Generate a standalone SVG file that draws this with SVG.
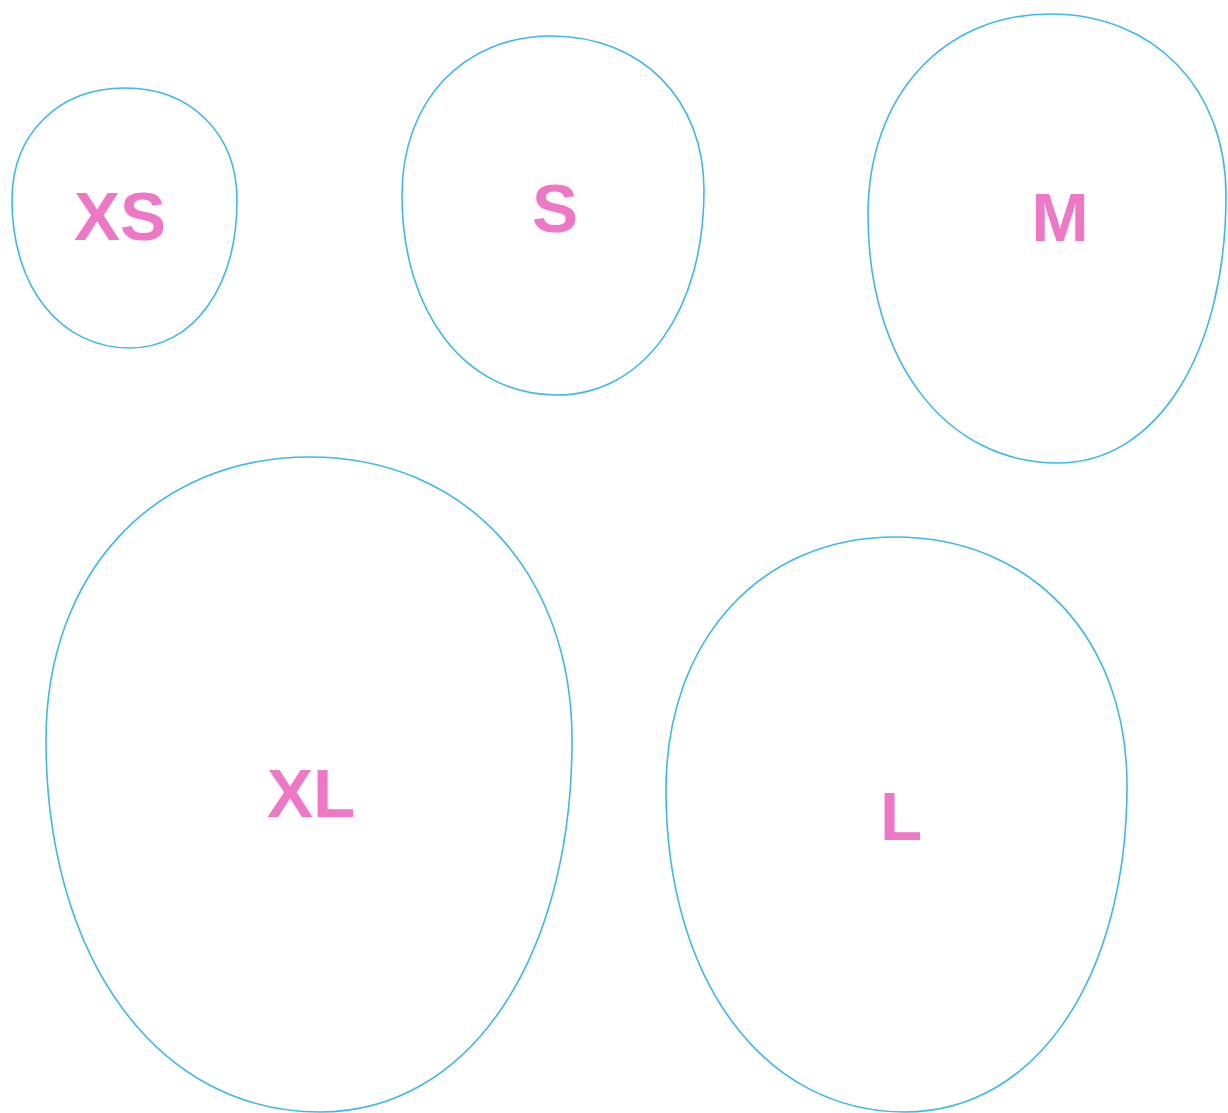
<svg xmlns="http://www.w3.org/2000/svg" width="1228" height="1113" viewBox="0 0 1228 1113">
<style>
.shape{fill:none;stroke:#3DB9EA;stroke-width:1.6}
.lbl{font-family:"Liberation Sans",Arial,sans-serif;font-weight:bold;font-size:69px;fill:#EE78C6;text-anchor:middle}
</style>
<rect width="1228" height="1113" fill="#fff"/>
<g id="node-xs">
<path class="shape" d="M125,88 C191.1,88 237,133.9 237,200 C237,287.3 193.1,348 130,348 C60.4,348 12,287.3 12,200 C12,133.9 58.3,88 125,88 Z"/>
<text class="lbl" x="120" y="240">XS</text>
</g>
<g id="node-s">
<path class="shape" d="M551,36 C641.3,36 704,99.1 704,190 C704,311 643.7,395 557,395 C465.5,395 402,313 402,195 C402,101.2 463.1,36 551,36 Z"/>
<text class="lbl" x="555" y="232">S</text>
</g>
<g id="node-m">
<path class="shape" d="M1050,14 C1153.8,14 1226,88.2 1226,195 C1226,353.1 1157.1,463 1058,463 C945.9,463 868,361.3 868,215 C868,96.4 942.6,14 1050,14 Z"/>
<text class="lbl" x="1060" y="241">M</text>
</g>
<g id="node-xl">
<path class="shape" d="M310,457 C464.6,457 572,573 572,740 C572,959.5 468.7,1112 320,1112 C158.3,1112 46,959.5 46,740 C46,573 154.2,457 310,457 Z"/>
<text class="lbl" x="311" y="817">XL</text>
</g>
<g id="node-l">
<path class="shape" d="M895,537 C1031.9,537 1127,638.7 1127,785 C1127,977.9 1036,1112 905,1112 C764,1112 666,980 666,790 C666,640.7 759.9,537 895,537 Z"/>
<text class="lbl" x="901" y="840">L</text>
</g>
<g id="connectors"></g>
</svg>
